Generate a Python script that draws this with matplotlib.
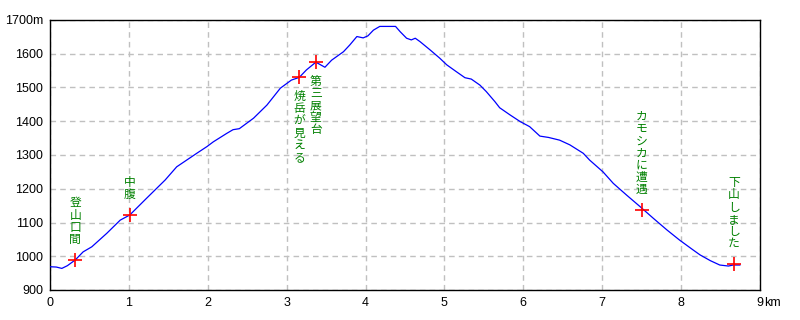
import matplotlib
matplotlib.use("Agg")
import matplotlib.pyplot as plt
from matplotlib.ticker import FixedLocator, FixedFormatter
from matplotlib import font_manager

# ---- data ----
dist_km = [0.00, 0.08, 0.15, 0.22, 0.32, 0.42, 0.53, 0.72, 0.89, 1.01,
           1.225, 1.46, 1.606, 1.86, 1.99, 2.07, 2.24, 2.32, 2.40, 2.58,
           2.75, 2.92, 3.06, 3.16, 3.25, 3.37, 3.485, 3.57, 3.72, 3.80,
           3.89, 3.97, 4.03, 4.10, 4.18, 4.38, 4.44, 4.52, 4.58, 4.63,
           4.69, 4.82, 4.94, 5.03, 5.15, 5.26, 5.34, 5.45, 5.53, 5.64,
           5.70, 5.83, 5.96, 6.08, 6.21, 6.32, 6.46, 6.59, 6.76, 6.84,
           7.01, 7.14, 7.31, 7.48, 7.65, 7.82, 7.98, 8.15, 8.24, 8.37,
           8.49, 8.60, 8.66, 8.745]
elev_m = [969, 968, 964, 972, 989, 1013, 1028, 1068, 1107, 1122,
          1172, 1226, 1265, 1305, 1325, 1339, 1364, 1375, 1378, 1409,
          1448, 1498, 1522, 1530, 1552, 1575, 1560, 1581, 1606, 1626,
          1651, 1647, 1653, 1670, 1681, 1681, 1665, 1646, 1641, 1646,
          1636, 1611, 1587, 1567, 1547, 1529, 1525, 1507, 1488, 1458,
          1440, 1419, 1399, 1384, 1356, 1352, 1344, 1330, 1305, 1285,
          1250, 1216, 1181, 1147, 1112, 1078, 1048, 1019, 1004, 987,
          974, 971, 974, 974]

point_names = ["登山口間", "中腹", "焼岳が見える", "第三展望台", "カモシカに遭遇", "下山しました"]
point_km = [0.32, 1.01, 3.16, 3.37, 7.50, 8.67]
point_elev = [989, 1122, 1530, 1575, 1137, 977]
label_side = ["above", "above", "below", "below", "above", "above"]

x_ticks = [0, 1, 2, 3, 4, 5, 6, 7, 8, 9]
x_labels = ["0", "1", "2", "3", "4", "5", "6", "7", "8", "9"]
y_ticks = [900, 1000, 1100, 1200, 1300, 1400, 1500, 1600, 1700]
y_labels = ["900", "1000", "1100", "1200", "1300", "1400", "1500", "1600", "1700m"]

# ---- plot ----
installed = {f.name for f in font_manager.fontManager.ttflist}
if "Liberation Sans Narrow" in installed:
    tick_font = ["Liberation Sans Narrow", "DejaVu Sans"]
    tick_size = 10
else:
    tick_font = ["Liberation Sans", "DejaVu Sans"]
    tick_size = 9
cjk_font = ["Noto Sans CJK JP", "DejaVu Sans"]

fig = plt.figure(figsize=(8, 3.2), dpi=100)
ax = fig.add_axes([50 / 800, 30 / 320, 710 / 800, 270 / 320])

ax.set_xlim(0, 9)
ax.set_ylim(900, 1700)

ax.grid(True, color="#c0c0c0", linestyle=(0, (4, 3)), linewidth=1)
ax.set_axisbelow(True)

ax.plot(dist_km, elev_m, color="#0000ff", linewidth=0.9, zorder=3)
ax.plot(point_km, point_elev, linestyle="none", marker="+", markersize=10,
        markeredgewidth=1.2, color="#ff0000", zorder=4)

for name, xk, ye, side in zip(point_names, point_km, point_elev, label_side):
    txt = "\n".join(name)
    if side == "above":
        ax.annotate(txt, xy=(xk, ye), xytext=(0, 10), textcoords="offset points",
                    ha="center", va="bottom", color="#008000", fontsize=8.5,
                    family=cjk_font, linespacing=0.92, zorder=5)
    else:
        ax.annotate(txt, xy=(xk, ye), xytext=(0, -9), textcoords="offset points",
                    ha="center", va="top", color="#008000", fontsize=8.5,
                    family=cjk_font, linespacing=0.92, zorder=5)

ax.xaxis.set_major_locator(FixedLocator(x_ticks))
ax.xaxis.set_major_formatter(FixedFormatter(x_labels))
ax.yaxis.set_major_locator(FixedLocator(y_ticks))
ax.yaxis.set_major_formatter(FixedFormatter(y_labels))
ax.tick_params(length=0, pad=5, labelsize=tick_size)
for lab in ax.get_xticklabels() + ax.get_yticklabels():
    lab.set_family(tick_font)

ax.annotate("km", xy=(9, 0), xycoords=("data", "axes fraction"),
            xytext=(3, -5), textcoords="offset points", ha="left", va="top",
            fontsize=tick_size, family=tick_font)

for sp in ax.spines.values():
    sp.set_color("black")
    sp.set_linewidth(1.0)

fig.savefig("out.png", dpi=100)
